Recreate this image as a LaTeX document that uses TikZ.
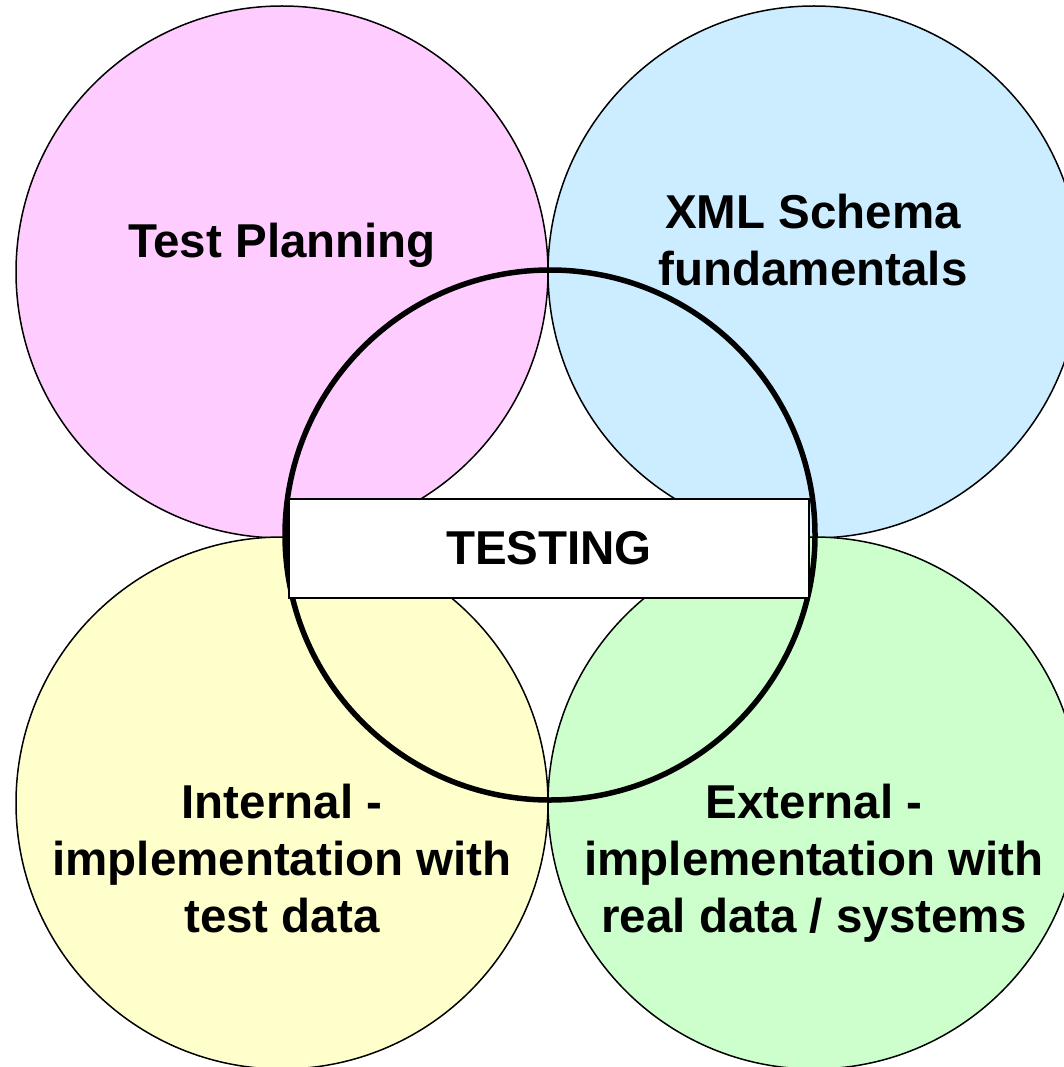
\documentclass[tikz,border=0pt]{standalone}
\usepackage{fontspec}
\setmainfont{Liberation Sans}
\definecolor{pinkfill}{HTML}{FFCCFF}
\definecolor{bluefill}{HTML}{CCECFF}
\definecolor{yellowfill}{HTML}{FFFFCC}
\definecolor{greenfill}{HTML}{CCFFCC}
\tikzset{
  topic/.style={draw=black, line width=1.5pt, circle, minimum size=532pt, inner sep=0pt},
  label/.style={font=\bfseries\fontsize{47.5}{57}\selectfont, align=center, anchor=base, inner sep=0pt},
  hub/.style={draw=black, line width=5.5pt, circle, minimum size=530pt, inner sep=0pt},
  banner/.style={draw=black, line width=2pt, fill=white, minimum width=520pt, minimum height=99pt, inner sep=0pt, font=\bfseries\fontsize{47.5}{57}\selectfont}
}
\begin{document}
\begin{tikzpicture}[x=1pt, y=-1pt]
\useasboundingbox (0,0) rectangle (1064,1067);
\clip (0,0) rectangle (1064,1067);
\node[topic, fill=pinkfill] (plan) at (282,272) {};
\node[topic, fill=bluefill] (xml) at (814,272) {};
\node[topic, fill=yellowfill] (int) at (282,803) {};
\node[topic, fill=greenfill] (ext) at (814,803) {};
\node[hub] (hub) at (550,535) {};
\node[banner] (testing) at (549,548) {TESTING};
\node[label] (tplan) at (282,258) {Test Planning};
\node[label] (txml) at (813,285) {XML Schema\\fundamentals};
\node[label] (tint) at (282,932) {Internal -\\implementation with\\test data};
\node[label] (text) at (814,932) {External -\\implementation with\\real data / systems};
\end{tikzpicture}
\end{document}
